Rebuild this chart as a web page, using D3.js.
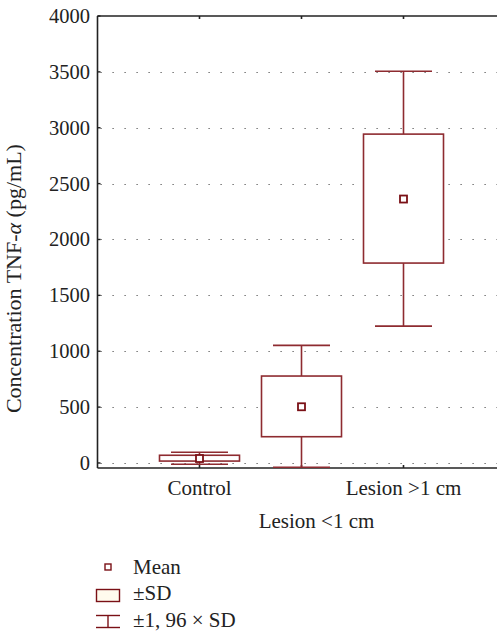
<!DOCTYPE html>
<html>
<head>
<meta charset="utf-8">
<script src="https://cdn.jsdelivr.net/npm/d3@7"></script>
<style>
  body { margin: 0; background: #fff; }
  svg text { font-family: "Liberation Serif", "Times New Roman", "DejaVu Serif", serif; fill: #222; }
</style>
</head>
<body>
<div id="chart"></div>
<script>
const width = 497;
const height = 632;
const boxColor = "#8e2b30";
const meanColor = "#7a1016";
const serif = "'Liberation Serif', 'Times New Roman', 'DejaVu Serif', serif";

// data
const groups = ["Control", "Lesion <1 cm", "Lesion >1 cm"];
const means = [40, 503, 2362];
const sdLow = [17, 235, 1789];
const sdHigh = [69, 778, 2943];
const ciLow = [-12, -38, 1225];
const ciHigh = [96, 1052, 3506];
const yTicks = [0, 500, 1000, 1500, 2000, 2500, 3000, 3500, 4000];
const legendLabels = ["Mean", "\u00b1SD", "\u00b11, 96 \u00d7 SD"];

const x = d3.scaleLinear().domain([0, 4]).range([97.5, 505.5]);
const y = d3.scaleLinear().domain([-45, 4000]).range([468, 16]);

const svg = d3
  .select("#chart")
  .append("svg")
  .attr("width", width)
  .attr("height", height)
  .style("font-family", serif);

// dotted grid
svg
  .selectAll(".grid")
  .data(yTicks.filter(d => d < 4000))
  .enter()
  .append("line")
  .attr("x1", x(0) + 3)
  .attr("x2", width)
  .attr("y1", d => Math.round(y(d)) + 0.5)
  .attr("y2", d => Math.round(y(d)) + 0.5)
  .style("stroke", "#555")
  .style("stroke-width", 1.2)
  .style("stroke-dasharray", "1.2 10.8");

// frame: left, top, bottom
const frame = svg.append("g").style("stroke", "#222").style("stroke-width", 1.6);
frame.append("line").attr("x1", x(0)).attr("x2", x(0)).attr("y1", y(4000)).attr("y2", y(-45));
frame.append("line").attr("x1", x(0)).attr("x2", width).attr("y1", y(4000)).attr("y2", y(4000));
frame.append("line").attr("x1", x(0)).attr("x2", width).attr("y1", y(-45)).attr("y2", y(-45));

// y ticks + labels
svg
  .selectAll(".ytick")
  .data(yTicks)
  .enter()
  .append("line")
  .attr("x1", x(0))
  .attr("x2", x(0) + 3)
  .attr("y1", d => y(d))
  .attr("y2", d => y(d))
  .style("stroke", "#222")
  .style("stroke-width", 1.4);

svg
  .selectAll(".ylab")
  .data(yTicks)
  .enter()
  .append("text")
  .attr("x", 90)
  .attr("y", d => y(d))
  .attr("dy", "0.34em")
  .attr("text-anchor", "end")
  .style("font-family", serif)
  .style("font-size", "20.5px")
  .text(d => d);

// x ticks top and bottom
groups.forEach((g, i) => {
  const cx = x(i + 1);
  svg.append("line").attr("x1", cx).attr("x2", cx).attr("y1", y(4000)).attr("y2", y(4000) + 3)
    .style("stroke", "#222").style("stroke-width", 1.6);
  svg.append("line").attr("x1", cx).attr("x2", cx).attr("y1", y(-45)).attr("y2", y(-45) - 3)
    .style("stroke", "#222").style("stroke-width", 1.6);
});

// category labels (middle one staggered below)
svg
  .selectAll(".xlab")
  .data(groups)
  .enter()
  .append("text")
  .attr("x", (d, i) => x(i + 1) + (i === 1 ? 15 : 0))
  .attr("y", (d, i) => (i === 1 ? 528 : 495))
  .attr("text-anchor", "middle")
  .style("font-family", serif)
  .style("font-size", "21px")
  .text(d => d);

// y axis title
svg
  .append("text")
  .attr("transform", `translate(21, ${y(1650)}) rotate(-90)`)
  .attr("text-anchor", "middle")
  .style("font-family", serif)
  .style("font-size", "22px")
  .html('Concentration TNF-<tspan font-style="italic">\u03b1</tspan> (pg/mL)');

// boxes
const boxHalf = 40;
const capHalf = 28.5;
const boxes = svg.append("g");
groups.forEach((g, i) => {
  const cx = x(i + 1);
  const gg = boxes.append("g").style("stroke", boxColor).style("stroke-width", 1.6).style("fill", "none");
  gg.append("line").attr("x1", cx).attr("x2", cx).attr("y1", y(ciHigh[i])).attr("y2", y(sdHigh[i]));
  gg.append("line").attr("x1", cx).attr("x2", cx).attr("y1", y(sdLow[i])).attr("y2", y(ciLow[i]));
  gg.append("line").attr("x1", cx - capHalf).attr("x2", cx + capHalf).attr("y1", y(ciHigh[i])).attr("y2", y(ciHigh[i]));
  gg.append("line").attr("x1", cx - capHalf).attr("x2", cx + capHalf).attr("y1", y(ciLow[i])).attr("y2", y(ciLow[i]));
  gg.append("rect")
    .attr("x", cx - boxHalf)
    .attr("y", y(sdHigh[i]))
    .attr("width", boxHalf * 2)
    .attr("height", y(sdLow[i]) - y(sdHigh[i]))
    .style("fill", "#fff");
  gg.append("rect")
    .attr("x", cx - 3.5)
    .attr("y", y(means[i]) - 3.5)
    .attr("width", 7)
    .attr("height", 7)
    .style("fill", "#fff")
    .style("stroke", meanColor)
    .style("stroke-width", 1.8);
});

// legend
const legend = svg.append("g");
legend.append("rect").attr("x", 105).attr("y", 564).attr("width", 6).attr("height", 6)
  .style("fill", "#fff").style("stroke", meanColor).style("stroke-width", 1.4);
legend.append("rect").attr("x", 96.5).attr("y", 589.5).attr("width", 23).attr("height", 12)
  .style("fill", "#fffbee").style("stroke", meanColor).style("stroke-width", 1.4);
const ib = legend.append("g").style("stroke", meanColor).style("stroke-width", 1.4);
ib.append("line").attr("x1", 96).attr("x2", 120).attr("y1", 615.5).attr("y2", 615.5);
ib.append("line").attr("x1", 96).attr("x2", 120).attr("y1", 627.5).attr("y2", 627.5);
ib.append("line").attr("x1", 108).attr("x2", 108).attr("y1", 615.5).attr("y2", 627.5);

legend
  .selectAll(".leglab")
  .data(legendLabels)
  .enter()
  .append("text")
  .attr("x", 133)
  .attr("y", (d, i) => 567 + i * 26.5)
  .attr("dy", "0.32em")
  .style("font-family", serif)
  .style("font-size", "21px")
  .text(d => d);
</script>
</body>
</html>
